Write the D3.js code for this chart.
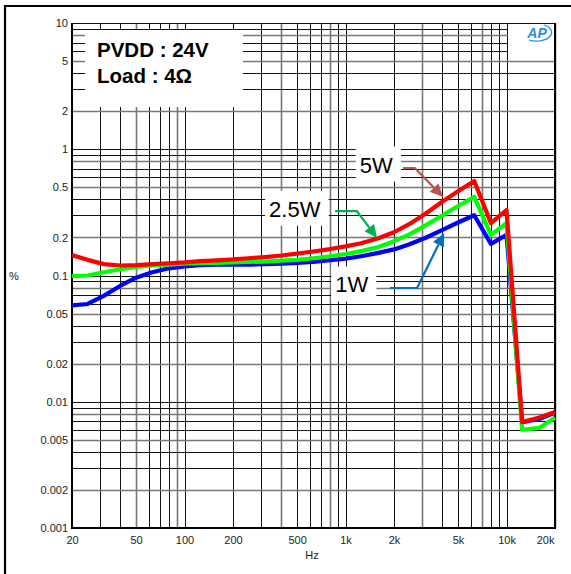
<!DOCTYPE html>
<html><head><meta charset="utf-8">
<script src="https://cdn.jsdelivr.net/npm/d3@7"></script>
<style>body{margin:0;background:#fff}svg{display:block}text{font-family:"Liberation Sans",Arial,sans-serif}</style>
</head><body>
<svg id="c" width="571" height="574"></svg>
<script>
// ---- data ----
const freqs = [20,25,31.5,40,50,63,80,100,125,160,200,250,315,400,500,630,800,1000,1250,1600,2000,2500,3150,4000,5000,6300,8000,10000,12500,16000,20000];
const thd1W  = [0.058,0.0595,0.069,0.083,0.096,0.106,0.114,0.118,0.121,0.122,0.122,0.122,0.123,0.124,0.126,0.128,0.132,0.136,0.142,0.151,0.161,0.177,0.199,0.230,0.263,0.30,0.178,0.21,0.0069,0.0073,0.0082];
const thd2_5W = [0.099,0.100,0.106,0.112,0.117,0.120,0.122,0.124,0.125,0.126,0.127,0.128,0.129,0.131,0.133,0.137,0.142,0.148,0.156,0.168,0.187,0.212,0.25,0.30,0.355,0.42,0.21,0.26,0.006,0.0062,0.0075];
const thd5W  = [0.145,0.133,0.123,0.120,0.121,0.123,0.125,0.127,0.130,0.132,0.134,0.137,0.140,0.144,0.149,0.155,0.162,0.170,0.180,0.197,0.220,0.256,0.31,0.385,0.465,0.56,0.26,0.33,0.0069,0.0075,0.0083];
const seriesNames = ["1W","2.5W","5W"];
const seriesColors = ["#0000ff","#00ff00","#ff0000"];
const arrowColors = ["#0070c0","#00b050","#c0504d"];
const xTickValues = [20,50,100,200,500,1000,2000,5000,10000,20000];
const xTickLabels = ["20","50","100","200","500","1k","2k","5k","10k","20k"];
const yTickValues = [10,5,2,1,0.5,0.2,0.1,0.05,0.02,0.01,0.005,0.002,0.001];
const yTickLabels = ["10","5","2","1","0.5","0.2","0.1","0.05","0.02","0.01","0.005","0.002","0.001"];
// annotation anchors in data space (Hz, %)
const labelAnchors = [[1092,0.0841],[484,0.335],[1550,0.75]];
const arrowPaths = [
  [[1888,0.0796],[2782,0.0796],[4100,0.217]],
  [[862,0.324],[1176,0.324],[1570,0.198]],
  [[2278,0.71],[2692,0.71],[4040,0.419]]
];

// ---- layout ----
const W = 571, H = 574;
const M = {left:72, right:16, top:23, bottom:46};
const svg = d3.select("#c");
const x = d3.scaleLog().domain([20,20000]).range([M.left, W - M.right]);
const y = d3.scaleLog().domain([0.001,10]).range([H - M.bottom, M.top]);

// outer frame (top & left visible)
svg.append("line").attr("x1",5).attr("x2",W).attr("y1",6).attr("y2",6).attr("stroke","#000").attr("stroke-width",2.2);
svg.append("line").attr("x1",5).attr("x2",5).attr("y1",5).attr("y2",H).attr("stroke","#000").attr("stroke-width",2.2);

// grid
const xGrid = [], yGrid = [];
[10,100,1000,10000].forEach(d => { for (let k=1;k<=9;k++){ const v=k*d; if (v>=20 && v<=20000) xGrid.push(v);} });
xGrid.push(20000);
[0.001,0.01,0.1,1].forEach(d => { for (let k=1;k<=9;k++) yGrid.push(k*d); });
yGrid.push(10);
const g = svg.append("g");
g.selectAll(".vx").data(xGrid).join("line")
  .attr("x1",d=>Math.round(x(d))+0.5).attr("x2",d=>Math.round(x(d))+0.5)
  .attr("y1",y(10)).attr("y2",y(0.001))
  .attr("stroke",(d,i)=> (i%4===3) ? "#777" : "#111").attr("stroke-width",(d,i)=> (i%4===3)?1.6:1);
g.selectAll(".hy").data(yGrid).join("line")
  .attr("y1",d=>Math.round(y(d))+0.5).attr("y2",d=>Math.round(y(d))+0.5)
  .attr("x1",x(20)).attr("x2",x(20000))
  .attr("stroke",(d,i)=> (i%3===1) ? "#777" : "#111").attr("stroke-width",(d,i)=> (i%3===1)?1.6:1);
// plot axes (left, bottom, right)
svg.append("line").attr("x1",x(20)).attr("x2",x(20)).attr("y1",y(10)).attr("y2",y(0.001)+1).attr("stroke","#000").attr("stroke-width",2);
svg.append("line").attr("x1",x(20)).attr("x2",x(20000)+1).attr("y1",y(0.001)).attr("y2",y(0.001)).attr("stroke","#000").attr("stroke-width",2);
svg.append("line").attr("x1",x(20000)).attr("x2",x(20000)).attr("y1",y(10)).attr("y2",y(0.001)).attr("stroke","#000").attr("stroke-width",2);

// white boxes: legend and logo
svg.append("rect").attr("x",85).attr("y",30).attr("width",158).attr("height",77).attr("fill","#fff");
svg.append("text").attr("x",97).attr("y",57).attr("font-size",20.5).attr("font-weight","bold").attr("fill","#000").text("PVDD : 24V");
svg.append("text").attr("x",97).attr("y",83).attr("font-size",20.5).attr("font-weight","bold").attr("fill","#000").text("Load : 4Ω");
svg.append("rect").attr("x",508).attr("y",24.5).attr("width",46).attr("height",31).attr("fill","#fff");
const logo = svg.append("g").attr("transform","translate(538,33)");
logo.append("path").attr("d","M -9 7 A 14 8 0 1 0 6 -8").attr("fill","none").attr("stroke","#2b8fd9").attr("stroke-width",1.3);
logo.append("text").attr("x",-1).attr("y",5).attr("text-anchor","middle").attr("font-size",14).attr("font-style","italic").attr("font-weight","bold").attr("fill","#2b8fd9").attr("stroke","#fff").attr("stroke-width",0.6).attr("paint-order","stroke").text("AP");

// axes labels via d3 axes
const xAxis = d3.axisBottom(x).tickValues(xTickValues).tickFormat((d,i)=>xTickLabels[i]).tickSize(0).tickPadding(8);
const xa = svg.append("g").attr("transform",`translate(0,${y(0.001)})`).call(xAxis);
xa.select(".domain").remove();
xa.selectAll("text").attr("font-size",11).attr("fill","#222").attr("font-family","Liberation Sans, Arial, sans-serif")
  .attr("text-anchor",(d,i)=> i===xTickValues.length-1 ? "end" : "middle")
  .attr("dx",(d,i)=> i===xTickValues.length-1 ? -1 : 0);
const yAxis = d3.axisLeft(y).tickValues(yTickValues).tickFormat((d,i)=>yTickLabels[i]).tickSize(0).tickPadding(4);
const ya = svg.append("g").attr("transform",`translate(${x(20)},0)`).call(yAxis);
ya.select(".domain").remove();
ya.selectAll("text").attr("font-size",11).attr("fill","#222").attr("font-family","Liberation Sans, Arial, sans-serif");

svg.append("text").attr("x",14).attr("y",280).attr("text-anchor","middle").attr("font-size",11).attr("fill","#222").text("%");
svg.append("text").attr("x",312).attr("y",559).attr("text-anchor","middle").attr("font-size",11).attr("fill","#222").text("Hz");

// curves
const series = [thd1W, thd2_5W, thd5W];
const line = d3.line().x(d=>x(d[0])).y(d=>y(d[1]));
series.forEach((vals,si)=>{
  svg.append("path").datum(freqs.map((f,i)=>[f,vals[i]]))
    .attr("d",line).attr("fill","none").attr("stroke",seriesColors[si])
    .attr("stroke-width",4.2).attr("stroke-linejoin","round");
});

// annotations
seriesNames.forEach((name,si)=>{
  const [fx,fy] = labelAnchors[si];
  const t = svg.append("text").attr("x",x(fx)).attr("y",y(fy)).attr("text-anchor","middle")
    .attr("dominant-baseline","central").attr("font-size",22).attr("fill","#000").text(name);
  const bb = t.node().getBBox();
  svg.insert("rect", () => t.node()).attr("x",bb.x-4).attr("y",bb.y-6).attr("width",bb.width+12).attr("height",bb.height+10).attr("fill","#fff");
  const pts = arrowPaths[si].map(p=>[x(p[0]),y(p[1])]);
  const tip = pts[pts.length-1], prev = pts[pts.length-2];
  const dx = tip[0]-prev[0], dy = tip[1]-prev[1], L = Math.hypot(dx,dy);
  const ux = dx/L, uy = dy/L, len = 13, hw = 6;
  const base = [tip[0]-ux*len, tip[1]-uy*len];
  const linePts = pts.slice(0,-1).concat([base]);
  svg.append("path").attr("d",d3.line()(linePts)).attr("fill","none").attr("stroke",arrowColors[si]).attr("stroke-width",2.2);
  svg.append("path").attr("d",d3.line()([tip,[base[0]-uy*hw,base[1]+ux*hw],[base[0]+uy*hw,base[1]-ux*hw]])+"Z").attr("fill",arrowColors[si]);
});
</script>
</body></html>
